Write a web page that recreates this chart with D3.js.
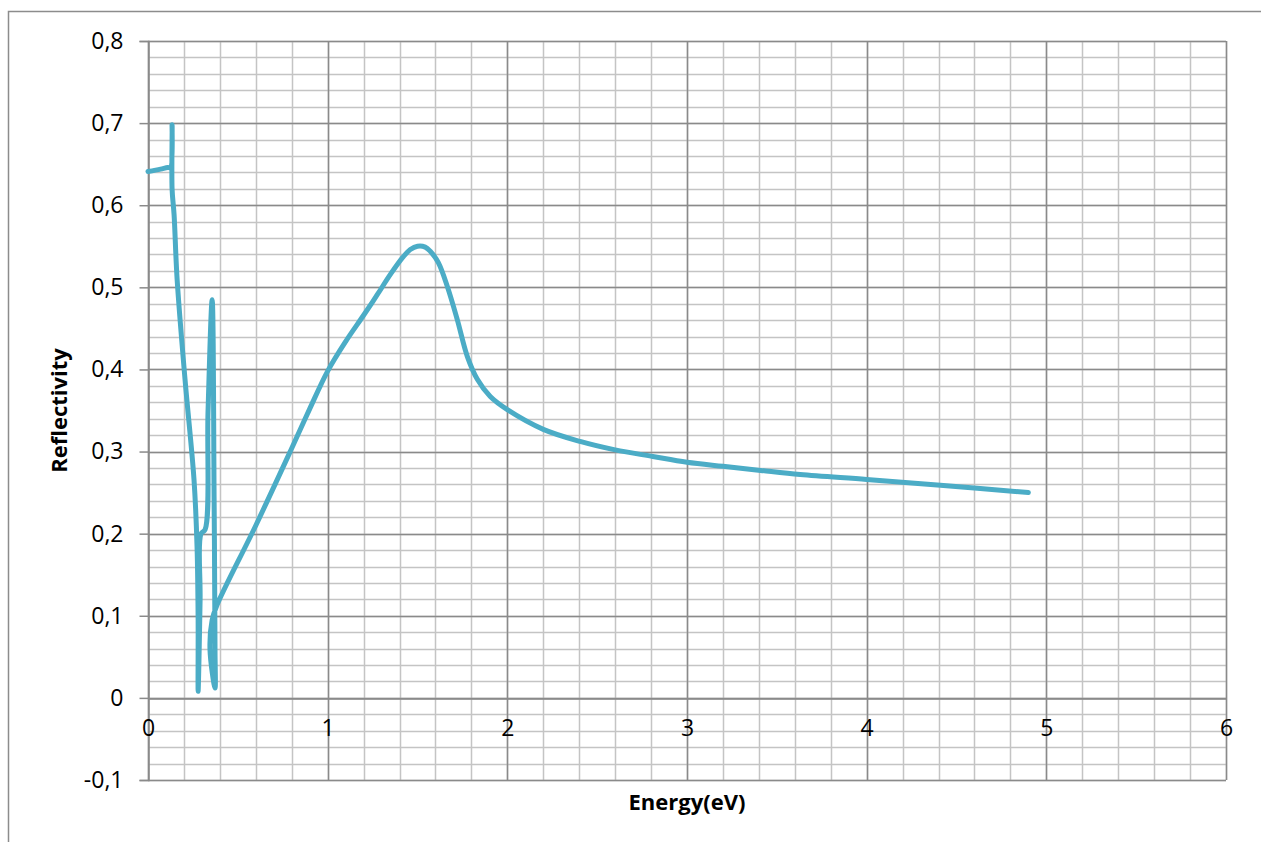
<!DOCTYPE html>
<html>
<head>
<meta charset="utf-8">
<script src="https://d3js.org/d3.v7.min.js"></script>
<style>
  body { margin: 0; background: #fff; }
  text { font-family: "Open Sans", "Noto Sans", sans-serif; fill: #000; }
  .lbl { font-size: 23px; }
  .title { font-size: 22px; font-weight: bold; }
</style>
</head>
<body>
<script>
// curve points, in drawing order (the curve folds back on itself near 0.3 eV)
const energy = [0, 0.07, 0.11, 0.125, 0.134, 0.134, 0.145, 0.162, 0.206, 0.256,
  0.273, 0.279, 0.279, 0.290, 0.295, 0.318, 0.334, 0.357, 0.368, 0.373,
  0.373, 0.345, 0.357, 0.384, 0.6, 0.8, 0.9, 1.0, 1.1, 1.2,
  1.276, 1.35, 1.42, 1.46, 1.50, 1.543, 1.571, 1.616, 1.666, 1.721,
  1.777, 1.833, 1.905, 2.0, 2.2, 2.41, 2.6, 2.81, 3.0,
  3.2, 3.41, 3.63, 4.0, 4.41, 4.9]
const reflectivity = [0.641, 0.644, 0.646, 0.646, 0.698, 0.620, 0.589, 0.510, 0.388, 0.266,
  0.184, 0.095, 0.008, 0.120, 0.200, 0.205, 0.348, 0.485, 0.241, 0.059,
  0.012, 0.059, 0.095, 0.113, 0.210, 0.304, 0.352, 0.398, 0.434, 0.466,
  0.491, 0.516, 0.537, 0.546, 0.550, 0.549, 0.544, 0.530, 0.501, 0.461,
  0.416, 0.388, 0.367, 0.351, 0.327, 0.312, 0.302, 0.294, 0.287,
  0.282, 0.277, 0.272, 0.266, 0.259, 0.250]

const xTicks = [0, 1, 2, 3, 4, 5, 6]
const yTicks = [-0.1, 0, 0.1, 0.2, 0.3, 0.4, 0.5, 0.6, 0.7, 0.8]

const w = 1261, h = 842
const padL = 148, padR = 1226, padT = 41, padB = 780

const svg = d3.select('body').append('svg')
  .attr('width', w).attr('height', h)

// outer chart border (only top and left visible)
svg.append('path')
  .attr('d', `M8.5,${h} L8.5,11.5 L${w},11.5`)
  .attr('fill', 'none').attr('stroke', '#8c8c8c').attr('stroke-width', 1.5)

const x = d3.scaleLinear().domain([0, 6]).range([padL, padR])
const y = d3.scaleLinear().domain([-0.1, 0.8]).range([padB, padT])

// minor grid
const minorX = d3.range(0, 6.001, 0.2)
const minorY = d3.range(-0.1, 0.8001, 0.02)
svg.append('g').selectAll('line').data(minorX).enter().append('line')
  .attr('x1', d => Math.round(x(d)) + 0.5).attr('x2', d => Math.round(x(d)) + 0.5)
  .attr('y1', padT).attr('y2', padB)
  .attr('stroke', '#c4c4c4').attr('stroke-width', 1.5)
svg.append('g').selectAll('line').data(minorY).enter().append('line')
  .attr('y1', d => Math.round(y(d)) + 0.5).attr('y2', d => Math.round(y(d)) + 0.5)
  .attr('x1', padL).attr('x2', padR)
  .attr('stroke', '#c4c4c4').attr('stroke-width', 1.5)

// major grid
svg.append('g').selectAll('line').data(xTicks).enter().append('line')
  .attr('x1', d => Math.round(x(d)) + 0.5).attr('x2', d => Math.round(x(d)) + 0.5)
  .attr('y1', padT).attr('y2', padB)
  .attr('stroke', '#8a8a8a').attr('stroke-width', 1.5)
svg.append('g').selectAll('line').data(yTicks).enter().append('line')
  .attr('y1', d => Math.round(y(d)) + 0.5).attr('y2', d => Math.round(y(d)) + 0.5)
  .attr('x1', padL).attr('x2', padR)
  .attr('stroke', '#8a8a8a').attr('stroke-width', 1.5)

const fmt = d => d === 0 ? '0' : d3.format('.1f')(d).replace('.', ',').replace('−', '-')

// y axis with outward ticks
const yAxis = d3.axisLeft(y).tickValues(yTicks).tickSize(9).tickPadding(16).tickFormat(fmt)
const gy = svg.append('g').attr('transform', `translate(${padL + 0.5},0)`).call(yAxis)
gy.selectAll('path, line').attr('stroke', '#8a8a8a').attr('stroke-width', 1.5)
gy.selectAll('text').attr('class', 'lbl').attr('fill', '#000')

// x axis at y = 0, labels below
const xAxis = d3.axisBottom(x).tickValues(xTicks).tickSize(0).tickPadding(21)
  .tickFormat(d3.format('d'))
const gx = svg.append('g').attr('transform', `translate(0,${Math.round(y(0)) + 0.5})`).call(xAxis)
gx.selectAll('path').attr('stroke', '#8a8a8a').attr('stroke-width', 1.5)
gx.selectAll('text').attr('class', 'lbl').attr('fill', '#000')

// the curve
const pts = energy.map((e, i) => [e, reflectivity[i]])
const line = d3.line()
  .x(d => x(d[0])).y(d => y(d[1]))
  .curve(d3.curveCatmullRom.alpha(0.5))
svg.append('path').datum(pts)
  .attr('d', line)
  .attr('fill', 'none')
  .attr('stroke', '#4bacc6')
  .attr('stroke-width', 5)
  .attr('stroke-linejoin', 'round')
  .attr('stroke-linecap', 'round')

// axis titles
svg.append('text').attr('class', 'title')
  .attr('x', (padL + padR) / 2).attr('y', 810)
  .attr('text-anchor', 'middle')
  .text('Energy(eV)')
svg.append('text').attr('class', 'title')
  .attr('transform', `translate(67,${(padT + padB) / 2}) rotate(-90)`)
  .attr('text-anchor', 'middle')
  .text('Reflectivity')
</script>
</body>
</html>
